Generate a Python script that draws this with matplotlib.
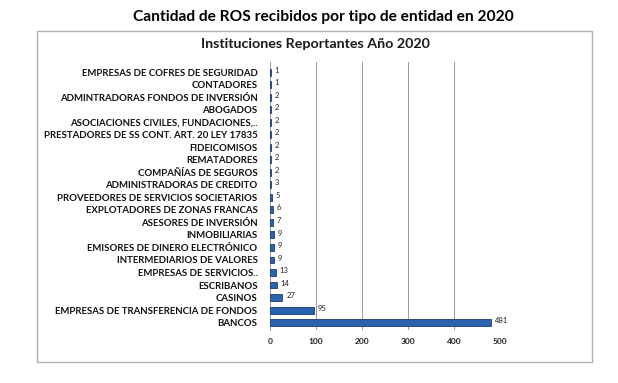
import matplotlib
matplotlib.use("Agg")
import matplotlib.pyplot as plt
from matplotlib.patches import Rectangle

# datos: de abajo hacia arriba
entidades = [
    "BANCOS",
    "EMPRESAS DE TRANSFERENCIA DE FONDOS",
    "CASINOS",
    "ESCRIBANOS",
    "EMPRESAS DE SERVICIOS..",
    "INTERMEDIARIOS DE VALORES",
    "EMISORES DE DINERO ELECTRÓNICO",
    "INMOBILIARIAS",
    "ASESORES DE INVERSIÓN",
    "EXPLOTADORES DE ZONAS FRANCAS",
    "PROVEEDORES DE SERVICIOS SOCIETARIOS",
    "ADMINISTRADORAS DE CREDITO",
    "COMPAÑÍAS DE SEGUROS",
    "REMATADORES",
    "FIDEICOMISOS",
    "PRESTADORES DE SS CONT. ART. 20 LEY 17835",
    "ASOCIACIONES CIVILES, FUNDACIONES,..",
    "ABOGADOS",
    "ADMINTRADORAS FONDOS DE INVERSIÓN",
    "CONTADORES",
    "EMPRESAS DE COFRES DE SEGURIDAD",
]
cantidades = [481, 95, 27, 14, 13, 9, 9, 9, 7, 6, 5, 3, 2, 2, 2, 2, 2, 2, 2, 1, 1]
ticks_x = [0, 100, 200, 300, 400, 500]

plt.rcParams['font.family'] = ['Lato', 'DejaVu Sans']

fig = plt.figure(figsize=(6.18, 3.83), dpi=100)
fig.patch.set_facecolor("white")

# marco del grafico
fig.patches.append(Rectangle((0.06, 0.055), 0.898, 0.864, transform=fig.transFigure,
                             fill=False, edgecolor="#b0b0b0", linewidth=1.0))

fig.text(0.523, 0.955, "Cantidad de ROS recibidos por tipo de entidad en 2020",
         ha="center", va="center", fontsize=11.2, fontweight="bold", color="#000000")
fig.text(0.51, 0.885, "Instituciones Reportantes Año 2020",
         ha="center", va="center", fontsize=10.3, fontweight="bold", color="#1a1a1a")

ax = fig.add_axes([0.437, 0.138, 0.372, 0.70])
y = list(range(len(entidades)))
ax.barh(y, cantidades, height=0.55, color="#2a62b0", edgecolor="#1a3f78", linewidth=0.6, zorder=3)

for yi, v in zip(y, cantidades):
    ax.text(v + 8, yi + 0.15, str(v), va="center", ha="left", fontsize=5.5, color="#222222")

ax.set_xlim(0, 500)
ax.set_ylim(-0.6, len(entidades) - 0.2)
ax.set_xticks(ticks_x)
ax.set_xticklabels([str(t) for t in ticks_x], fontsize=6, fontweight="bold", color="#222222")
ax.set_yticks(y)
ax.set_yticklabels(entidades, fontsize=6.9, fontweight="bold", color="#111111")
ax.tick_params(axis="y", length=0, pad=9)
ax.tick_params(axis="x", length=0, pad=6)
ax.grid(axis="x", color="#999999", linewidth=0.7, zorder=0)
for s in ["top", "right", "bottom"]:
    ax.spines[s].set_visible(False)
ax.spines["left"].set_color("#999999")
ax.spines["left"].set_linewidth(0.7)

fig.savefig("out.png", dpi=100, facecolor="white")
